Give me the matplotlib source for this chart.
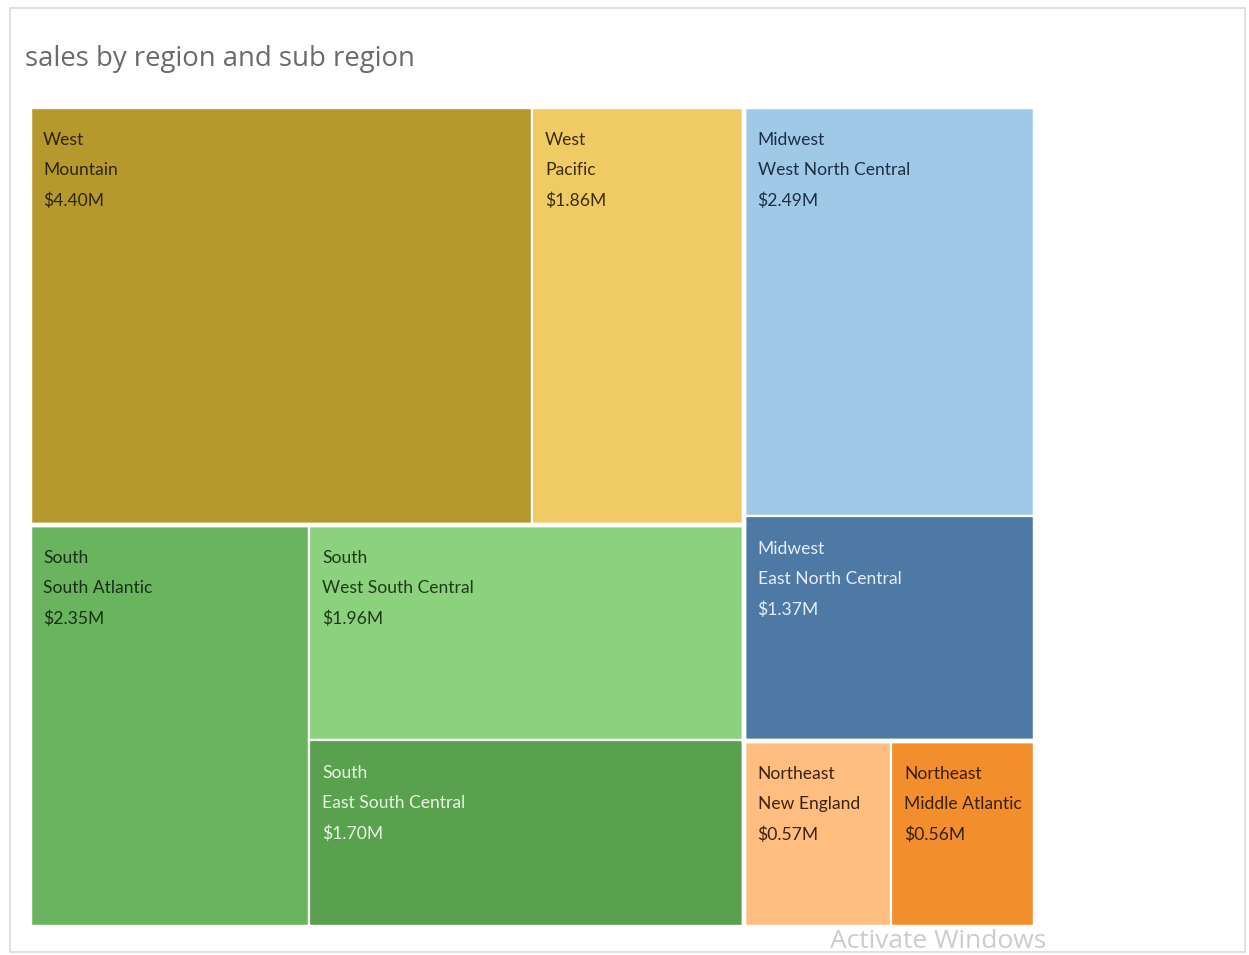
import matplotlib
matplotlib.use("Agg")
import matplotlib.pyplot as plt
from matplotlib.patches import Rectangle

# data
regions = ["West", "West", "Midwest", "Midwest", "South", "South", "South",
           "Northeast", "Northeast"]
subregions = ["Mountain", "Pacific", "West North Central", "East North Central",
              "South Atlantic", "West South Central", "East South Central",
              "New England", "Middle Atlantic"]
sales = [4.40, 1.86, 2.49, 1.37, 2.35, 1.96, 1.70, 0.57, 0.56]

colors = ["#b5992c", "#f0ca63", "#a0c9e8", "#4e79a5", "#6bb45f", "#8cd17d",
          "#59a14f", "#ffbd7f", "#f28e2c"]
text_colors = ["#2e2608", "#3a2f0a", "#1c2f45", "#e6eef7", "#173016", "#1f3a18",
               "#e8f6e2", "#3a2410", "#3a1e05"]

# split tree: 'h' = side by side, 'v' = stacked (first on top)
layout = ("h", [("v", [("h", [0, 1]), ("h", [4, ("v", [5, 6])])]),
                ("v", [("v", [2, 3]), ("h", [7, 8])])])


def total(node):
    if isinstance(node, int):
        return sales[node]
    return sum(total(c) for c in node[1])


leaf_rects = {}


def place(node, x, y, w, h):
    if isinstance(node, int):
        leaf_rects[node] = (x, y, w, h)
        return
    kind, kids = node
    s = total(node)
    if kind == "h":
        cx = x
        for k in kids:
            kw = w * total(k) / s
            place(k, cx, y, kw, h)
            cx += kw
    else:
        cy = y + h
        for k in kids:
            kh = h * total(k) / s
            place(k, x, cy - kh, w, kh)
            cy -= kh


place(layout, 0, 0, 1, 1)

fig = plt.figure(figsize=(12.49, 9.55), dpi=100)
fig.patch.set_facecolor("white")

# light frame around the dashboard
fig.add_artist(Rectangle((10 / 1249, 3 / 955), 1235 / 1249, 944 / 955,
                         transform=fig.transFigure, fill=False,
                         edgecolor="#dcdcdc", linewidth=1.2))

ax = fig.add_axes([30 / 1249, 28 / 955, 1005 / 1249, 820 / 955])
ax.set_xlim(0, 1)
ax.set_ylim(0, 1)
ax.axis("off")

font = ["Lato", "DejaVu Sans"]

for i, (x, y, w, h) in leaf_rects.items():
    ax.add_patch(Rectangle((x, y), w, h, facecolor=colors[i],
                           edgecolor="white", linewidth=1.6))
    lines = [regions[i], subregions[i], f"${sales[i]:.2f}M"]
    for j, t in enumerate(lines):
        ax.annotate(t, xy=(x, y + h), xytext=(9.4, -18 - 21.6 * j),
                    textcoords="offset points", ha="left", va="top",
                    fontsize=12.6, color=text_colors[i], family=font)

# thicker white gaps between regions
region_idx = {}
for i, r in enumerate(regions):
    region_idx.setdefault(r, []).append(i)
for r, idx in region_idx.items():
    x0 = min(leaf_rects[i][0] for i in idx)
    y0 = min(leaf_rects[i][1] for i in idx)
    x1 = max(leaf_rects[i][0] + leaf_rects[i][2] for i in idx)
    y1 = max(leaf_rects[i][1] + leaf_rects[i][3] for i in idx)
    ax.add_patch(Rectangle((x0, y0), x1 - x0, y1 - y0, fill=False,
                           edgecolor="white", linewidth=3.2))

fig.text(25 / 1249, 1 - 59 / 955, "sales by region and sub region",
         fontsize=19.8, color="#6a6a6a", ha="left", va="center",
         family=["Open Sans", "DejaVu Sans"])

# screenshot watermark
fig.text(830 / 1249, 1 - 941 / 955, "Activate Windows", fontsize=19,
         color="#cccccc", ha="left", va="center",
         family=["Open Sans", "DejaVu Sans"])

fig.savefig("out.png", dpi=100, facecolor="white")
